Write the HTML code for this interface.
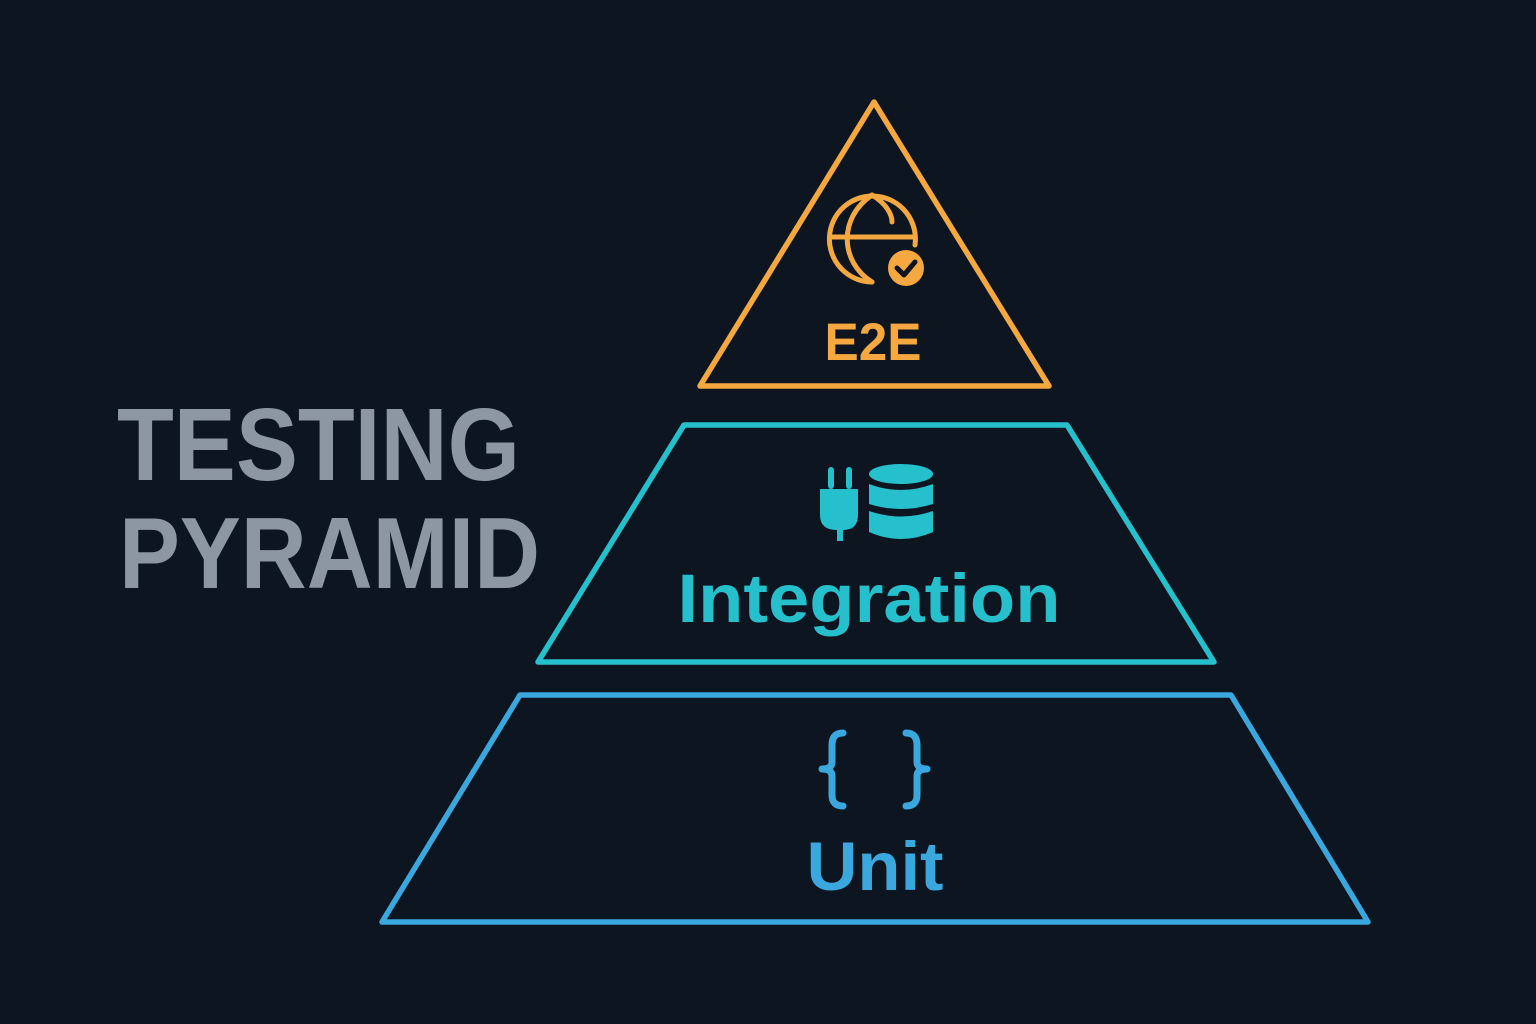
<!DOCTYPE html>
<html><head><meta charset="utf-8"><style>
html,body{margin:0;padding:0;background:#0c1520;}
svg{display:block;}
text{font-family:"Liberation Sans",sans-serif;font-weight:bold;}
</style></head><body>
<svg width="1536" height="1024" viewBox="0 0 1536 1024">
<rect width="1536" height="1024" fill="#0c1520"/>
<text x="117" y="480" font-size="103" fill="#8d97a1" textLength="403" lengthAdjust="spacingAndGlyphs">TESTING</text>
<text x="119" y="588" font-size="101" fill="#8d97a1" textLength="421" lengthAdjust="spacingAndGlyphs">PYRAMID</text>

<path d="M874 102 L1049 386 L700 386 Z" fill="none" stroke="#f5a840" stroke-width="5.5" stroke-linejoin="round"/>
<path d="M684 425 L1067 425 L1214 662 L538 662 Z" fill="none" stroke="#26c0cc" stroke-width="5.5" stroke-linejoin="round"/>
<path d="M520 695 L1231 695 L1368 922 L382 922 Z" fill="none" stroke="#3aa8de" stroke-width="5.5" stroke-linejoin="round"/>

<!-- globe -->
<g fill="none" stroke="#f5a840" stroke-width="5" stroke-linecap="round">
<path d="M915 245 A43 43 0 1 0 872 282"/>
<line x1="830" y1="237" x2="914" y2="237"/>
<path d="M872 195 C838 218 840 262 872 282"/>
<path d="M872 195 C887 204 892 215 892 222"/>
</g>
<circle cx="906" cy="268" r="18" fill="#f5a840"/>
<path d="M897 268 L904 275 L915 262" fill="none" stroke="#0c1520" stroke-width="5" stroke-linecap="round" stroke-linejoin="round"/>
<text x="873" y="360" font-size="53" fill="#f5a840" text-anchor="middle" textLength="97" lengthAdjust="spacingAndGlyphs">E2E</text>

<!-- plug + db -->
<g fill="#26c0cc">
<rect x="828" y="467" width="6" height="22" rx="3"/>
<rect x="846" y="467" width="6" height="22" rx="3"/>
<path d="M820 489 L858 489 L858 515 Q858 530 843 530 L843 541 L837 541 L837 530 Q820 530 820 515 Z"/>
<ellipse cx="901" cy="474" rx="32" ry="10"/>
<path d="M869 484 Q901 496 933 484 L933 504 Q901 514 869 504 Z"/>
<path d="M869 511 Q901 522 933 511 L933 532 Q901 546 869 532 Z"/>
</g>
<text x="869" y="622" font-size="69" fill="#26c0cc" text-anchor="middle" textLength="383" lengthAdjust="spacingAndGlyphs">Integration</text>

<!-- braces -->
<g fill="none" stroke="#3aa8de" stroke-width="7" stroke-linecap="round" stroke-linejoin="round">
<path d="M843 733 Q832 733 832 745 L832 762 Q832 769 822 769 Q832 769 832 776 L832 795 Q832 806 843 806"/>
<path d="M906 733 Q917 733 917 745 L917 762 Q917 769 927 769 Q917 769 917 776 L917 795 Q917 806 906 806"/>
</g>
<text x="875" y="890" font-size="69" fill="#3aa8de" text-anchor="middle" textLength="137" lengthAdjust="spacingAndGlyphs">Unit</text>
</svg>
</body></html>
